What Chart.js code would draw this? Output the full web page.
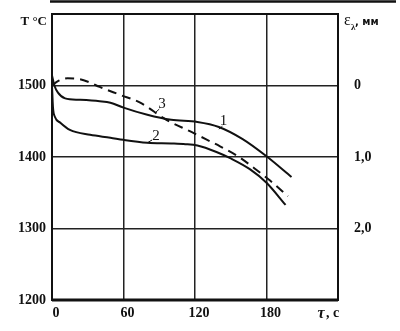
<!DOCTYPE html>
<html><head><meta charset="utf-8">
<script src="https://cdn.jsdelivr.net/npm/chart.js@4"></script>
<style>html,body{margin:0;padding:0;background:#fff}#wrap{width:400px;height:331px;position:relative}</style>
</head><body><div id="wrap"><canvas id="c" width="400" height="331"></canvas></div>
<script>
// time, s
const t1 = [0, 2, 5, 11, 23, 40, 49, 60, 80, 100, 122, 140, 160, 180, 201];
const T1 = [1514, 1500, 1490, 1482, 1480, 1478, 1476, 1469, 1459, 1452, 1449, 1442, 1425, 1401, 1372];
const t2 = [0, 0.8, 2.5, 7, 15, 32, 49, 60, 80, 100, 112, 122, 138, 150, 166, 180, 196];
const T2 = [1500, 1470, 1456, 1448, 1438, 1431, 1427, 1424, 1420, 1419, 1418, 1416, 1407, 1398, 1383, 1364, 1333];
const t3 = [0, 5, 13, 23, 32, 40, 57, 74, 96, 117, 129, 141, 157, 170, 183, 198];
const T3 = [1500, 1506, 1510, 1509, 1504, 1498, 1487, 1476, 1452, 1435, 1425, 1415, 1400, 1384, 1367, 1345];
const xTicks = [0, 60, 120, 180];
const yTicks = [1200, 1300, 1400, 1500];
const epsTicks = {0: '0', 1: '1,0', 2: '2,0'};
const curveLabels = [ {text: '1', x: 144, y: 1450, lx0: 140, ly0: 1439, lx1: 143, ly1: 1443},
                      {text: '3', x: 92.3, y: 1474, lx0: 86.4, ly0: 1461.5, lx1: 90, ly1: 1467},
                      {text: '2', x: 87.3, y: 1429.4, lx0: 79.7, ly0: 1419.6, lx1: 84, ly1: 1423.8} ];
const xTitle = 'τ, c';
const yTitle = 'T °C';

const pts = (xs, ys) => xs.map((x, i) => ({x, y: ys[i]}));
const INK = '#111';

const deco = {
  id: 'deco',
  afterDraw(chart) {
    const ctx = chart.ctx, x = chart.scales.x, y = chart.scales.y, a = chart.chartArea;
    ctx.save();
    // top rule of scanned page
    ctx.strokeStyle = INK; ctx.lineWidth = 2.5;
    ctx.beginPath(); ctx.moveTo(50, 1.5); ctx.lineTo(396, 1.5); ctx.stroke();
    // frame
    ctx.lineWidth = 2;
    ctx.strokeRect(a.left, a.top, a.right - a.left, a.bottom - a.top);
    ctx.lineWidth = 3;
    ctx.beginPath(); ctx.moveTo(a.left, a.bottom); ctx.lineTo(a.right, a.bottom); ctx.stroke();
    // curve labels
    ctx.fillStyle = INK; ctx.lineWidth = 1;
    ctx.font = '15px "Liberation Serif"';
    ctx.textAlign = 'center'; ctx.textBaseline = 'middle';
    curveLabels.forEach(l => {
      ctx.fillText(l.text, x.getPixelForValue(l.x), y.getPixelForValue(l.y));
      ctx.beginPath();
      ctx.moveTo(x.getPixelForValue(l.lx0), y.getPixelForValue(l.ly0));
      ctx.lineTo(x.getPixelForValue(l.lx1), y.getPixelForValue(l.ly1));
      ctx.stroke();
    });
    // axis titles
    ctx.font = 'bold 13px "Liberation Serif"';
    ctx.textAlign = 'right';
    ctx.fillText(yTitle, a.left - 5, a.top + 8);
    ctx.textAlign = 'center';
    ctx.font = 'italic bold 16px "Liberation Serif"';
    ctx.fillText('τ', 321, 314);
    ctx.font = 'bold 14px "Liberation Serif"';
    ctx.textAlign = 'left';
    ctx.fillText(', c', 326, 313);
    // epsilon title
    ctx.font = '16px "Liberation Serif"';
    ctx.fillText('ε', 344, 21);
    ctx.font = 'bold 9px "Liberation Serif"';
    ctx.fillText('λ', 351, 28);
    ctx.font = 'bold 10px "DejaVu Sans"';
    ctx.fillText(', мм', 355, 22);
    ctx.restore();
  }
};

const fixV = w => s => { s.width = w; s.paddingTop = 0; s.paddingBottom = 0; };

new Chart(document.getElementById('c'), {
  type: 'scatter',
  data: {
    datasets: [
      {data: pts(t1, T1), showLine: true, borderColor: INK, borderWidth: 2, pointRadius: 0, cubicInterpolationMode: 'monotone'},
      {data: pts(t2, T2), showLine: true, borderColor: INK, borderWidth: 2, pointRadius: 0, cubicInterpolationMode: 'monotone'},
      {data: pts(t3, T3), showLine: true, borderColor: INK, borderWidth: 2, borderDash: [9, 6], pointRadius: 0, cubicInterpolationMode: 'monotone'}
    ]
  },
  options: {
    responsive: false, animation: false,
    layout: {padding: {top: 14, left: 0, right: 0, bottom: 0}},
    plugins: {legend: {display: false}, tooltip: {enabled: false}},
    scales: {
      x: {
        type: 'linear', min: 0, max: 240,
        afterBuildTicks: s => { s.ticks = xTicks.concat([240]).map(v => ({value: v})); },
        afterFit: s => { s.height = 31; s.paddingLeft = 0; s.paddingRight = 0; },
        ticks: {color: INK, font: {family: 'Liberation Serif', size: 14, weight: 'bold'}, padding: 5, labelOffset: 4,
                maxRotation: 0, autoSkip: false, callback: v => xTicks.includes(v) ? String(v) : ''},
        grid: {color: '#222', lineWidth: 1.5, drawTicks: false},
        border: {display: false}
      },
      y: {
        type: 'linear', min: 1200, max: 1600, position: 'left',
        afterBuildTicks: s => { s.ticks = yTicks.concat([1600]).map(v => ({value: v})); },
        afterFit: fixV(52),
        ticks: {color: INK, font: {family: 'Liberation Serif', size: 14, weight: 'bold'}, padding: 6,
                autoSkip: false, callback: v => yTicks.includes(v) ? String(v) : ''},
        grid: {color: '#222', lineWidth: 1.5, drawTicks: false},
        border: {display: false}
      },
      y2: {
        type: 'linear', min: -1, max: 3, reverse: true, position: 'right',
        afterBuildTicks: s => { s.ticks = [-1, 0, 1, 2, 3].map(v => ({value: v})); },
        afterFit: fixV(62),
        ticks: {color: INK, font: {family: 'Liberation Serif', size: 14, weight: 'bold'}, padding: 16,
                autoSkip: false, callback: v => epsTicks[v] !== undefined ? epsTicks[v] : ''},
        grid: {display: false, drawTicks: false},
        border: {display: false}
      }
    }
  },
  plugins: [deco]
});
</script></body></html>
